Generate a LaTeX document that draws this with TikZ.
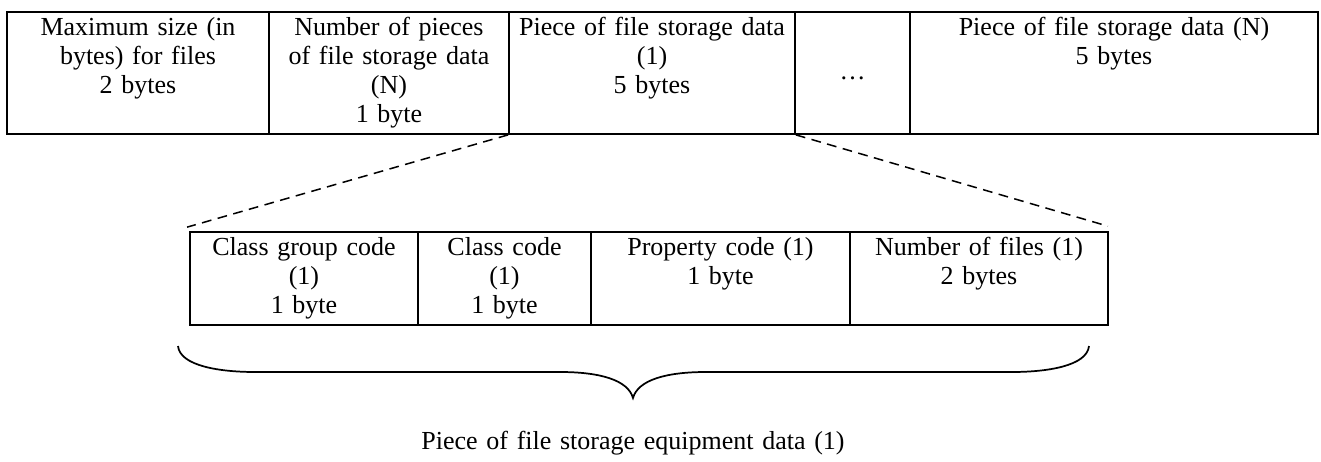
\documentclass[tikz,border=0pt]{standalone}
\usepackage{fontspec}
\setmainfont{Liberation Serif}
\usetikzlibrary{fit,calc}

\begin{document}
\begin{tikzpicture}[x=0.4615pt,y=-0.4615pt,
  cell/.style={draw, line width=0.8pt, inner sep=0pt},
  txt/.style={inner sep=0pt, anchor=base, align=center, text width=6cm,
              font=\fontsize{12pt}{13.4pt}\selectfont},
  link/.style={draw, line width=0.7pt, dash pattern=on 4.5pt off 3pt},
  brace/.style={draw, line width=0.8pt}]
\useasboundingbox (0,0) rectangle (1321,461);

% record layout: header fields
\node[cell, fit={(7,12) (269,134)}]    (c1) {};
\node[cell, fit={(269,12) (509,134)}]  (c2) {};
\node[cell, fit={(509,12) (795,134)}]  (c3) {};
\node[cell, fit={(795,12) (910,134)}]  (c4) {};
\node[cell, fit={(910,12) (1318,134)}] (c5) {};

\node[txt] (t1) at ($(c1.north)+(0,24)$) {Maximum size (in\\bytes) for files\\2 bytes};
\node[txt] (t2) at ($(c2.north)+(0,24)$) {Number of pieces\\of file storage data\\(N)\\1 byte};
\node[txt] (t3) at ($(c3.north)+(0,24)$) {Piece of file storage data\\(1)\\5 bytes};
\node[txt] (t4) at ($(c4.north)+(0,68)$) {…};
\node[txt] (t5) at ($(c5.north)+(0,24)$) {Piece of file storage data (N)\\5 bytes};

% one piece of file storage data, expanded
\node[cell, fit={(190,232) (418,325)}]  (d1) {};
\node[cell, fit={(418,232) (591,325)}]  (d2) {};
\node[cell, fit={(591,232) (850,325)}]  (d3) {};
\node[cell, fit={(850,232) (1108,325)}] (d4) {};

\node[txt] (u1) at ($(d1.north)+(0,24)$) {Class group code\\(1)\\1 byte};
\node[txt] (u2) at ($(d2.north)+(0,24)$) {Class code\\(1)\\1 byte};
\node[txt] (u3) at ($(d3.north)+(0,24)$) {Property code (1)\\1 byte};
\node[txt] (u4) at ($(d4.north)+(0,24)$) {Number of files (1)\\2 bytes};

% zoom lines
\draw[link] (c3.south west) -- ($(d1.north west)+(-2,-4)$);
\draw[link] (c3.south east) -- ($(d4.north east)+(-1,-5)$);

% brace under the expanded piece
\draw[brace] (178,346) .. controls (180,366) and (220,372) .. (255,372)
  -- (560,372) .. controls (600,372) and (628,380) .. (633,398)
  .. controls (638,380) and (666,372) .. (706,372)
  -- (1012,372) .. controls (1047,372) and (1087,366) .. (1089,346);

\node[txt, text width=10cm] (cap) at (633,449) {Piece of file storage equipment data (1)};
\end{tikzpicture}
\end{document}
